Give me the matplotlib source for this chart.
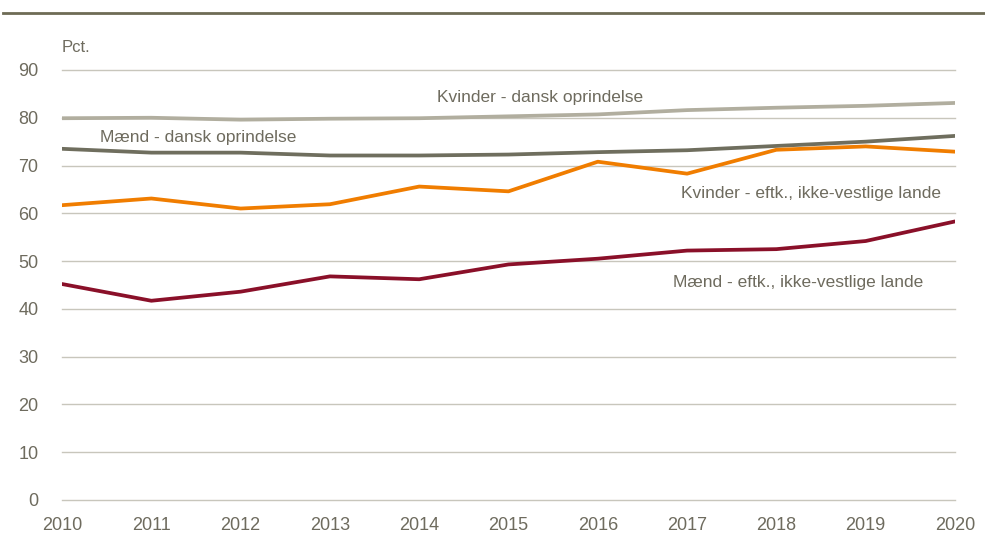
import numpy as np
import matplotlib
matplotlib.use("Agg")
import matplotlib.pyplot as plt
from matplotlib.lines import Line2D

plt.rcParams['font.family'] = ['Liberation Sans', 'DejaVu Sans']

# Data
years = [2010, 2011, 2012, 2013, 2014, 2015, 2016, 2017, 2018, 2019, 2020]
kvinder_dansk = [79.9, 80.0, 79.6, 79.8, 79.9, 80.3, 80.7, 81.6, 82.1, 82.5, 83.1]
maend_dansk = [73.5, 72.7, 72.7, 72.1, 72.1, 72.3, 72.8, 73.2, 74.1, 75.0, 76.2]
kvinder_ikv = [61.7, 63.1, 61.0, 61.9, 65.6, 64.6, 70.8, 68.3, 73.3, 74.0, 72.9]
maend_ikv = [45.2, 41.7, 43.6, 46.8, 46.2, 49.3, 50.5, 52.2, 52.5, 54.2, 58.3]

series_labels = ["Kvinder - dansk oprindelse", "Mænd - dansk oprindelse",
                 "Kvinder - eftk., ikke-vestlige lande", "Mænd - eftk., ikke-vestlige lande"]
yticks = [0, 10, 20, 30, 40, 50, 60, 70, 80, 90]

text_col = '#6e6b5e'
grid_col = '#c8c6bc'
fs = 12.5

fig = plt.figure(figsize=(9.85, 5.45), dpi=100)
ax = fig.add_axes([0.063, 0.0826, 0.9065, 0.789])

for yv in yticks:
    ax.axhline(yv, color=grid_col, lw=1.0, zorder=1, clip_on=False)

ax.plot(years, kvinder_dansk, color='#b1ae9f', lw=2.7, zorder=3, solid_capstyle='round')
ax.plot(years, maend_dansk, color='#6f6e5e', lw=2.7, zorder=3, solid_capstyle='round')
ax.plot(years, kvinder_ikv, color='#f07d00', lw=2.7, zorder=3, solid_capstyle='round')
ax.plot(years, maend_ikv, color='#8a1029', lw=2.7, zorder=3, solid_capstyle='round')

ax.set_xlim(2010, 2020)
ax.set_ylim(0, 90)
ax.set_xticks(years)
ax.set_yticks(yticks)
ax.tick_params(length=0, colors=text_col, labelsize=13)
ax.tick_params(axis='x', pad=12)
ax.tick_params(axis='y', pad=17)
for s in ax.spines.values():
    s.set_visible(False)

# series labels
ax.text(2014.2, 84.3, series_labels[0], color=text_col, fontsize=fs, va='center')
ax.text(2010.43, 75.9, series_labels[1], color=text_col, fontsize=fs, va='center')
ax.text(2016.93, 64.2, series_labels[2], color=text_col, fontsize=fs, va='center')
ax.text(2016.84, 45.6, series_labels[3], color=text_col, fontsize=fs, va='center')
ax.text(2010.0, 94.6, "Pct.", color=text_col, fontsize=12, va='center')

# header rule
fig.add_artist(Line2D([0.003, 1.0], [1 - 13 / 545, 1 - 13 / 545], color='#6e6b55', lw=2))

fig.savefig("out.png", dpi=100)
